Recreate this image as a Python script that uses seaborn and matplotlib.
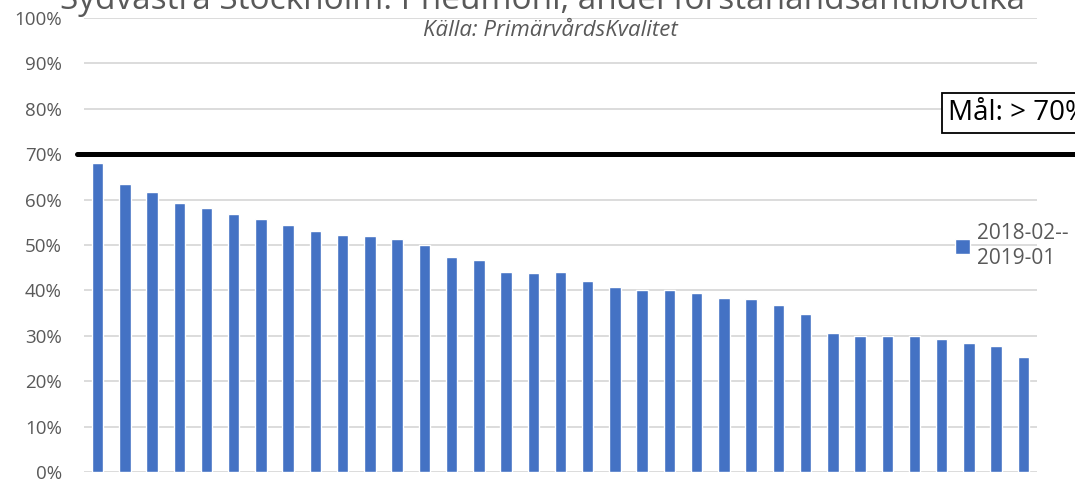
import numpy as np
import pandas as pd
import matplotlib
matplotlib.use("Agg")
import matplotlib.pyplot as plt
import seaborn as sns

# data (share of first-line antibiotics per unit)
units = ["Enhet %d" % i for i in range(1, 36)]
andel = [68.1, 63.4, 61.7, 59.3, 58.1, 56.8, 55.8, 54.5, 53.1, 52.3,
         52.0, 51.4, 49.9, 47.3, 46.7, 44.0, 43.9, 44.0, 42.0, 40.8,
         40.0, 40.0, 39.4, 38.3, 38.0, 36.7, 34.8, 30.7, 30.0, 30.0,
         29.9, 29.4, 28.5, 27.7, 25.3]
period = "2018-02--\n2019-01"
mal = 70
yticks = [0, 10, 20, 30, 40, 50, 60, 70, 80, 90, 100]

df = pd.DataFrame({"enhet": units, "andel": np.array(andel) / 100})

sns.set_style("white")
plt.rcParams["font.family"] = ["Open Sans", "DejaVu Sans"]

W, H = 1075, 482
fig = plt.figure(figsize=(W / 100, H / 100), dpi=100)
ax = fig.add_axes([84 / W, 1 - 472 / H, (1037 - 84) / W, (472 - 18) / H])

sns.barplot(data=df, x="enhet", y="andel", color="#4472C4", width=0.42,
            saturation=1, label=period, ax=ax)

ax.set_ylim(0, 1)
ax.set_yticks([t / 100 for t in yticks])
ax.set_yticklabels(["%d%%" % t for t in yticks], color="#595959", fontsize=13.5)
ax.tick_params(axis="y", length=0, pad=16)
ax.set_xticks([])
ax.set_xlabel("")
ax.set_ylabel("")
ax.grid(axis="y", color="#d9d9d9", lw=1.3)
ax.set_axisbelow(True)
for s in ax.spines.values():
    s.set_visible(False)

# target line at 70 %
ax.axhline(mal / 100, xmin=-0.007, xmax=1.05, color="black", lw=3.6,
           clip_on=False, zorder=5)

fig.text(543 / W, 1 - 9 / H, "Sydvästra Stockholm: Pneumoni, andel förstahandsantibiotika",
         ha="center", va="baseline", fontsize=24, color="#595959")
fig.text(550 / W, 1 - 31 / H, "Källa: PrimärvårdsKvalitet", ha="center", va="center",
         fontsize=16, style="italic", color="#595959")

fig.text(948 / W, 1 - 113 / H, "Mål: > 70%", ha="left", va="center", fontsize=20,
         color="black",
         bbox=dict(boxstyle="square,pad=0.2", fc="white", ec="black", lw=1.3))

ax.legend(loc="upper left", bbox_to_anchor=(945 / W, 1 - 213 / H),
          bbox_transform=fig.transFigure, frameon=False, fontsize=15,
          handlelength=0.7, handleheight=0.7, handletextpad=0.35,
          borderpad=0, labelcolor="#595959")

fig.savefig("out.png", dpi=100)
